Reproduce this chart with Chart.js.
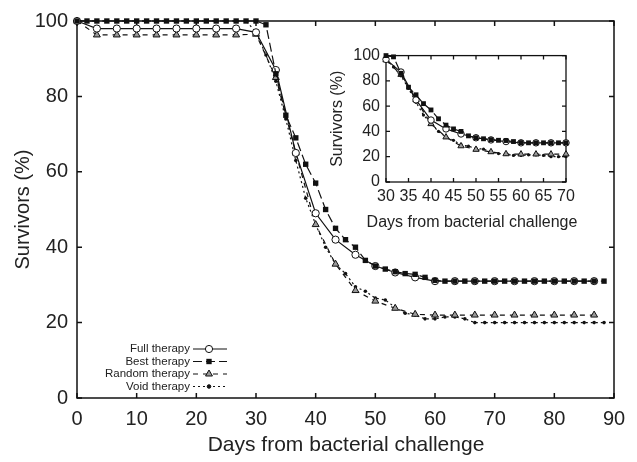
<!DOCTYPE html>
<html>
<head>
<meta charset="utf-8">
<script src="https://cdn.jsdelivr.net/npm/chart.js@4.4.0/dist/chart.umd.min.js"></script>
<style>
  html, body { margin: 0; padding: 0; background: #fff; }
  #wrap { position: relative; width: 637px; height: 462px; }
  #main { position: absolute; left: 0; top: 0; }
  #inset { position: absolute; left: 320px; top: 40px; }
</style>
</head>
<body>
<div id="wrap">
  <canvas id="main" width="637" height="462" style="width:637px;height:462px"></canvas>
  <canvas id="inset" width="260" height="200" style="width:260px;height:200px"></canvas>
</div>
<script>
// Sampling days (full / random every 3.33 d, best / void every 1.67 d)
const daysA = [0, 3.33, 6.67, 10, 13.33, 16.67, 20, 23.33, 26.67, 30, 33.33, 36.67, 40, 43.33,
  46.67, 50, 53.33, 56.67, 60, 63.33, 66.67, 70, 73.33, 76.67, 80, 83.33, 86.67];
const daysB = [0, 1.67, 3.33, 5, 6.67, 8.33, 10, 11.67, 13.33, 15, 16.67, 18.33, 20, 21.67, 23.33,
  25, 26.67, 28.33, 30, 31.67, 33.33, 35, 36.67, 38.33, 40, 41.67, 43.33, 45, 46.67, 48.33, 50,
  51.67, 53.33, 55, 56.67, 58.33, 60, 61.67, 63.33, 65, 66.67, 68.33, 70, 71.67, 73.33, 75, 76.67,
  78.33, 80, 81.67, 83.33, 85, 86.67, 88.33];

// Survivors (%)
const fullTherapy = [100, 98, 98, 98, 98, 98, 98, 98, 98, 97, 87, 65, 49, 42, 38, 35, 33.3, 32, 31,
  31, 31, 31, 31, 31, 31, 31, 31];
const randomTherapy = [100, 96.3, 96.3, 96.3, 96.3, 96.3, 96.3, 96.3, 96.3, 96.5, 85, 65, 46, 35.5,
  28.5, 25.7, 23.8, 22.2, 22, 22, 22, 22, 22, 22, 22, 22, 22];
const bestTherapy = [100, 100, 100, 100, 100, 100, 100, 100, 100, 100, 100, 100, 100, 100, 100, 100,
  100, 100, 100, 99, 86, 75, 69, 62, 57, 50, 45, 42, 40, 36.5, 35, 34.2, 33.5, 33, 32.8, 32, 31.2,
  31, 31, 31, 31, 31, 31, 31, 31, 31, 31, 31, 31, 31, 31, 31, 31, 31];
const voidTherapy = [100, 100, 100, 100, 100, 100, 100, 100, 100, 100, 100, 100, 100, 100, 100, 100,
  100, 100, 97, 91, 84, 74, 63, 53, 46, 40, 35.5, 33, 29.5, 28.3, 26.5, 26, 24, 22.5, 22, 21, 21,
  21.5, 21.5, 21, 20, 20, 20, 20, 20, 20, 20, 20, 20, 20, 20, 20, 20, 20];

const mainXTicks = [0, 10, 20, 30, 40, 50, 60, 70, 80, 90];
const mainYTicks = [0, 20, 40, 60, 80, 100];
const insetXTicks = [30, 35, 40, 45, 50, 55, 60, 65, 70];
const insetYTicks = [0, 20, 40, 60, 80, 100];

const FONT = "'Liberation Sans', Arial, Helvetica, sans-serif";
Chart.defaults.font.family = FONT;
Chart.defaults.color = '#222';

const INK = '#111';

function pts(days, vals, lo, hi) {
  const out = [];
  days.forEach((d, i) => { if (d >= lo - 0.01 && d <= hi + 0.01) out.push({ x: d, y: vals[i] }); });
  return out;
}

function makeDatasets(lo, hi, k) {
  return [
    { label: 'Best therapy', data: pts(daysB, bestTherapy, lo, hi), order: 0,
      borderColor: INK, borderWidth: 1.2, borderDash: [9, 4],
      pointStyle: 'rect', pointRadius: 3.8 * k, pointBackgroundColor: INK, pointBorderColor: INK, pointBorderWidth: 0 },
    { label: 'Full therapy', data: pts(daysA, fullTherapy, lo, hi), order: 1,
      borderColor: INK, borderWidth: 1.2,
      pointStyle: 'circle', pointRadius: 3.6 * k, pointBackgroundColor: '#fff', pointBorderColor: INK, pointBorderWidth: 1 },
    { label: 'Random therapy', data: pts(daysA, randomTherapy, lo, hi), order: 2,
      borderColor: INK, borderWidth: 1.2, borderDash: [5, 5],
      pointStyle: 'triangle', pointRadius: 4 * k, pointBackgroundColor: '#9a9a9a', pointBorderColor: INK, pointBorderWidth: 1 },
    { label: 'Void therapy', data: pts(daysB, voidTherapy, lo, hi), order: 3,
      borderColor: INK, borderWidth: 1.2, borderDash: [2, 3],
      pointStyle: 'circle', pointRadius: 1.8 * k, pointBackgroundColor: INK, pointBorderColor: INK, pointBorderWidth: 0 }
  ].map(d => Object.assign(d, { fill: false, tension: 0, clip: false }));
}

// Box around the plot with inward ticks on all four sides
const framePlugin = {
  id: 'frame',
  beforeDatasetsDraw(chart, args, opts) {
    const { ctx, chartArea: a, scales: { x, y } } = chart;
    const t = opts.tick;
    ctx.save();
    ctx.strokeStyle = INK;
    ctx.lineWidth = opts.width;
    ctx.strokeRect(a.left, a.top, a.right - a.left, a.bottom - a.top);
    ctx.beginPath();
    x.ticks.forEach(tk => {
      const px = x.getPixelForValue(tk.value);
      ctx.moveTo(px, a.bottom); ctx.lineTo(px, a.bottom - t);
      ctx.moveTo(px, a.top); ctx.lineTo(px, a.top + t);
    });
    y.ticks.forEach(tk => {
      const py = y.getPixelForValue(tk.value);
      ctx.moveTo(a.left, py); ctx.lineTo(a.left + t, py);
      ctx.moveTo(a.right, py); ctx.lineTo(a.right - t, py);
    });
    ctx.stroke();
    ctx.restore();
  },
  afterDraw(chart, args, opts) {
    // x title drawn by hand so it is not squeezed to the plot width
    if (!opts.xTitle) return;
    const { ctx } = chart;
    ctx.save();
    ctx.font = opts.xTitle.size + 'px ' + FONT;
    ctx.fillStyle = '#222';
    ctx.textAlign = 'center';
    ctx.textBaseline = 'middle';
    ctx.fillText(opts.xTitle.text, opts.xTitle.x, opts.xTitle.y);
    ctx.restore();
  }
};

function marker(ctx, style, x, y, r, fill) {
  ctx.beginPath();
  if (style === 'rect') {
    const s = r * Math.SQRT1_2;
    ctx.rect(x - s, y - s, 2 * s, 2 * s);
    ctx.fillStyle = fill; ctx.fill();
    return;
  }
  if (style === 'triangle') {
    ctx.moveTo(x, y - r);
    ctx.lineTo(x + r * 0.866, y + r * 0.5);
    ctx.lineTo(x - r * 0.866, y + r * 0.5);
    ctx.closePath();
  } else {
    ctx.arc(x, y, r, 0, Math.PI * 2);
  }
  ctx.fillStyle = fill; ctx.fill();
  ctx.lineWidth = 1; ctx.strokeStyle = INK; ctx.stroke();
}

// Legend: right-aligned names followed by a line sample
const legendPlugin = {
  id: 'sampleLegend',
  afterDraw(chart) {
    const { ctx } = chart;
    const order = ['Full therapy', 'Best therapy', 'Random therapy', 'Void therapy'];
    const rows = [349, 361.5, 374, 386.5];
    ctx.save();
    ctx.font = "11.5px " + FONT;
    ctx.textAlign = 'right';
    ctx.textBaseline = 'middle';
    order.forEach((name, i) => {
      const ds = chart.data.datasets.find(d => d.label === name);
      const y = rows[i];
      ctx.fillStyle = '#222';
      ctx.fillText(name, 190, y);
      ctx.strokeStyle = INK;
      ctx.lineWidth = 1.2;
      ctx.setLineDash(ds.borderDash || []);
      ctx.beginPath(); ctx.moveTo(193, y); ctx.lineTo(227, y); ctx.stroke();
      ctx.setLineDash([]);
      marker(ctx, ds.pointStyle, 209, y, ds.pointRadius, ds.pointBackgroundColor);
    });
    ctx.restore();
  }
};

function axisOpts(min, max, tickList, size, pad, title, titlePad, fit) {
  return {
    type: 'linear', min, max,
    afterBuildTicks: s => { s.ticks = tickList.map(v => ({ value: v })); },
    ticks: { font: { size }, padding: pad, color: '#222', maxRotation: 0, autoSkip: false },
    grid: { display: false, drawTicks: false },
    border: { display: false },
    title: title ? { display: true, text: title, font: { size }, padding: titlePad, color: '#222' } : { display: false },
    afterFit: fit
  };
}

new Chart(document.getElementById('main'), {
  type: 'line',
  data: { datasets: makeDatasets(0, 90, 1) },
  options: {
    responsive: false,
    animation: false,
    layout: { padding: { top: 16, right: 23, left: 0, bottom: 0 } },
    plugins: {
      legend: { display: false }, tooltip: { enabled: false },
      frame: { tick: 5, width: 1.5, xTitle: { text: 'Days from bacterial challenge', size: 21, x: 346, y: 445 } }
    },
    scales: {
      x: axisOpts(0, 90, mainXTicks, 20, 9, null, null, s => { s.height = 64; }),
      y: axisOpts(0, 100, mainYTicks, 20, 9, 'Survivors (%)', { top: 11, bottom: 0 }, s => { s.width = 77; })
    }
  },
  plugins: [framePlugin, legendPlugin]
});

new Chart(document.getElementById('inset'), {
  type: 'line',
  data: { datasets: makeDatasets(30, 70, 0.9) },
  options: {
    responsive: false,
    animation: false,
    layout: { padding: { top: 11, right: 14, left: 0, bottom: 0 } },
    plugins: {
      legend: { display: false }, tooltip: { enabled: false },
      frame: { tick: 4, width: 1.3, xTitle: { text: 'Days from bacterial challenge', size: 16, x: 152, y: 183 } }
    },
    scales: {
      x: axisOpts(30, 70, insetXTicks, 16, 5, null, null, s => { s.height = 58; }),
      y: axisOpts(0, 100, insetYTicks, 16, 6, 'Survivors (%)', { top: 8, bottom: 0 }, s => { s.width = 66; })
    }
  },
  plugins: [framePlugin]
});
</script>
</body>
</html>
